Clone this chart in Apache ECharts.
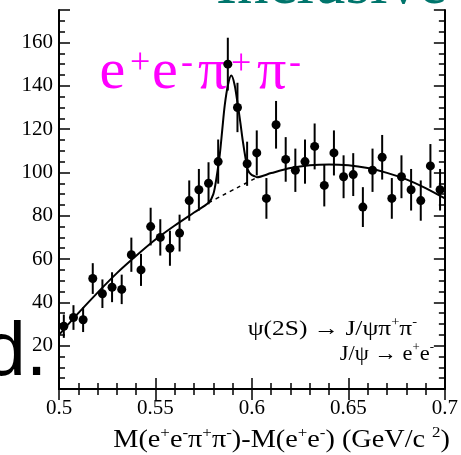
<!DOCTYPE html>
<html>
<head>
<meta charset="utf-8">
<script src="https://cdn.jsdelivr.net/npm/echarts@6/dist/echarts.min.js"></script>
<style>
  html, body { margin: 0; padding: 0; background: #fff; }
  #chart { width: 461px; height: 455px; }
</style>
</head>
<body>
<div id="chart"></div>
<script>
// Mass-difference bins (GeV/c^2), bin width 0.005
const binCenters = [
  0.5025, 0.5075, 0.5125, 0.5175, 0.5225, 0.5275, 0.5325, 0.5375, 0.5425, 0.5475,
  0.5525, 0.5575, 0.5625, 0.5675, 0.5725, 0.5775, 0.5825, 0.5875, 0.5925, 0.5975,
  0.6025, 0.6075, 0.6125, 0.6175, 0.6225, 0.6275, 0.6325, 0.6375, 0.6425, 0.6475,
  0.6525, 0.6575, 0.6625, 0.6675, 0.6725, 0.6775, 0.6825, 0.6875, 0.6925, 0.6975
];
// Entries per bin
const counts = [
  29, 33, 32, 51, 44, 47, 46, 62, 55, 75,
  70, 65, 72, 87, 92, 95, 105, 150, 130, 104,
  109, 88, 122, 106, 101, 105, 112, 94, 109, 98,
  99, 84, 101, 107, 88, 98, 92, 87, 103, 92
];
// Statistical errors per bin
const errors = [
  5.4, 5.7, 5.7, 7.1, 6.6, 6.9, 6.8, 7.9, 7.4, 8.7,
  8.4, 8.1, 8.5, 9.3, 9.6, 9.7, 10.2, 12.2, 11.4, 10.2,
  10.4, 9.4, 11.0, 10.3, 10.0, 10.2, 10.6, 9.7, 10.4, 9.9,
  9.9, 9.2, 10.0, 10.3, 9.4, 9.9, 9.6, 9.3, 10.1, 9.6
];
// Fitted curve: signal peak on top of a smooth background
const fitX = [
  0.500, 0.510, 0.520, 0.530, 0.540, 0.550, 0.560, 0.570, 0.5775,
  0.5800, 0.5816, 0.5833, 0.5846, 0.5859, 0.5876, 0.5893, 0.5910, 0.5927,
  0.5940, 0.5953, 0.5966, 0.5979, 0.5996, 0.6013, 0.6025,
  0.610, 0.620, 0.630, 0.640, 0.650, 0.660, 0.670, 0.680, 0.690, 0.700
];
const fitY = [
  25, 35, 44.5, 53.5, 61.5, 69, 75.5, 81.5, 86,
  90, 97.4, 108, 119.5, 131, 140.5, 144.7, 140.5, 131,
  123, 114.3, 107, 101.2, 99, 98.3, 97.8,
  99.7, 102, 103.3, 103.7, 103.3, 102, 99.8, 96.8, 92.8, 88
];
// Background alone under the peak (dashed)
const bkgX = [0.5775, 0.585, 0.5925, 0.6025];
const bkgY = [86, 89.5, 93, 97.6];

const xTicks = { min: 0.5, max: 0.7, interval: 0.05 };
const yRange = { min: 0, max: 175 };

const serif = 'Liberation Serif';
const black = '#000';
const magenta = '#ff00ff';

const chart = echarts.init(document.getElementById('chart'), null, { renderer: 'canvas' });

const axisLine = { show: true, lineStyle: { color: black, width: 2 } };
const tickStyle = { color: black, width: 1.5 };

function xAxisDef(position, showLabels) {
  return {
    type: 'value', position: position,
    min: xTicks.min, max: xTicks.max, interval: xTicks.interval,
    axisLine: axisLine,
    axisTick: { show: true, inside: true, length: 11, lineStyle: tickStyle },
    minorTick: { show: true, splitNumber: 5, length: 6, lineStyle: tickStyle },
    splitLine: { show: false }, minorSplitLine: { show: false },
    axisLabel: {
      show: showLabels, margin: 9, color: black, fontFamily: serif, fontSize: 21,
      formatter: v => String(+(+v).toFixed(2))
    }
  };
}
function yAxisDef(position, interval, tickLen, showLine, showLabels) {
  return {
    type: 'value', position: position,
    min: yRange.min, max: yRange.max, interval: interval,
    axisLine: showLine ? axisLine : { show: false },
    axisTick: { show: true, inside: true, length: tickLen, lineStyle: tickStyle },
    splitLine: { show: false },
    axisLabel: {
      show: showLabels, margin: 6, color: black, fontFamily: serif, fontSize: 21,
      formatter: v => (v > 0 && v % 20 === 0) ? String(v) : ''
    }
  };
}

const supStyle = (size, lh) => ({ fontSize: size, lineHeight: lh, verticalAlign: 'top', fontFamily: serif, fill: black });

function bigGlyph(text, x, y, size) {
  return { type: 'text', x: x, y: y, z: 1,
           style: { text: text, fontFamily: serif, fontSize: size, fill: magenta, verticalAlign: 'middle' } };
}

const option = {
  animation: false,
  backgroundColor: '#fff',
  grid: { left: 59, right: 12, top: 10, bottom: 66, containLabel: false },
  xAxis: [xAxisDef('bottom', true), xAxisDef('top', false)],
  yAxis: [
    yAxisDef('left', 20, 11, true, true),
    yAxisDef('left', 5, 6, false, false),
    yAxisDef('right', 20, 11, true, false),
    yAxisDef('right', 5, 6, false, false)
  ],
  series: [
    {
      type: 'custom', name: 'errors', xAxisIndex: 0, yAxisIndex: 0, z: 3,
      data: binCenters.map((x, i) => [x, counts[i] - errors[i], counts[i] + errors[i]]),
      encode: { x: 0, y: [1, 2] },
      renderItem: function (params, api) {
        const a = api.coord([api.value(0), api.value(1)]);
        const b = api.coord([api.value(0), api.value(2)]);
        return { type: 'line', shape: { x1: a[0], y1: a[1], x2: b[0], y2: b[1] },
                 style: { stroke: black, lineWidth: 2 } };
      }
    },
    {
      type: 'scatter', name: 'data', z: 4,
      data: binCenters.map((x, i) => [x, counts[i]]),
      symbol: 'circle', symbolSize: 9, itemStyle: { color: black, opacity: 1 }
    },
    {
      type: 'line', name: 'fit', z: 5,
      data: fitX.map((x, i) => [x, fitY[i]]),
      showSymbol: false, smooth: 0.3,
      lineStyle: { color: black, width: 2 }
    },
    {
      type: 'line', name: 'background', z: 5,
      data: bkgX.map((x, i) => [x, bkgY[i]]),
      showSymbol: false, smooth: 0.3,
      lineStyle: { color: black, width: 1.5, type: [4, 4] }
    }
  ],
  graphic: [
    { type: 'text', x: 447, y: -14, z: 10,
      style: { text: 'Inclusive', fontFamily: serif, fontSize: 63, fill: '#00756c', align: 'right', verticalAlign: 'middle' } },
    { type: 'text', x: 47, y: 354, z: 10,
      style: { text: 'd.', fontFamily: 'Liberation Sans', fontSize: 76, fill: black, align: 'right', verticalAlign: 'middle' } },
    // decay channel label
    bigGlyph('e', 99.5, 72.3, 58),
    bigGlyph('+', 130, 64, 36),
    bigGlyph('e', 152, 72.3, 58),
    bigGlyph('-', 181, 63.5, 36),
    bigGlyph('π', 198, 73, 58),
    bigGlyph('+', 231, 65, 36),
    bigGlyph('π', 257, 73, 58),
    bigGlyph('-', 289, 63.5, 36),
    // decay chain notes
    { type: 'text', x: 417, y: 317, z: 10, scaleX: 1.21,
      style: { text: 'ψ(2S) → J/ψπ{s|+}π{s|-}', fontFamily: serif, fontSize: 21, lineHeight: 24, fill: black,
               align: 'right', verticalAlign: 'top', rich: { s: supStyle(12, 10) } } },
    { type: 'text', x: 434, y: 342, z: 10, scaleX: 1.07,
      style: { text: 'J/ψ → e{s|+}e{s|-}', fontFamily: serif, fontSize: 21, lineHeight: 24, fill: black,
               align: 'right', verticalAlign: 'top', rich: { s: supStyle(12, 10) } } },
    // axis title
    { type: 'text', x: 450, y: 425.4, z: 10, scaleX: 1.13,
      style: { text: 'M(e{s|+}e{s|-}π{s|+}π{s|-})-M(e{s|+}e{s|-}) (GeV/c {s|2})', fontFamily: serif, fontSize: 25, lineHeight: 30, fill: black,
               align: 'right', verticalAlign: 'top', rich: { s: supStyle(15, 12) } } }
  ]
};

chart.setOption(option);
</script>
</body>
</html>
